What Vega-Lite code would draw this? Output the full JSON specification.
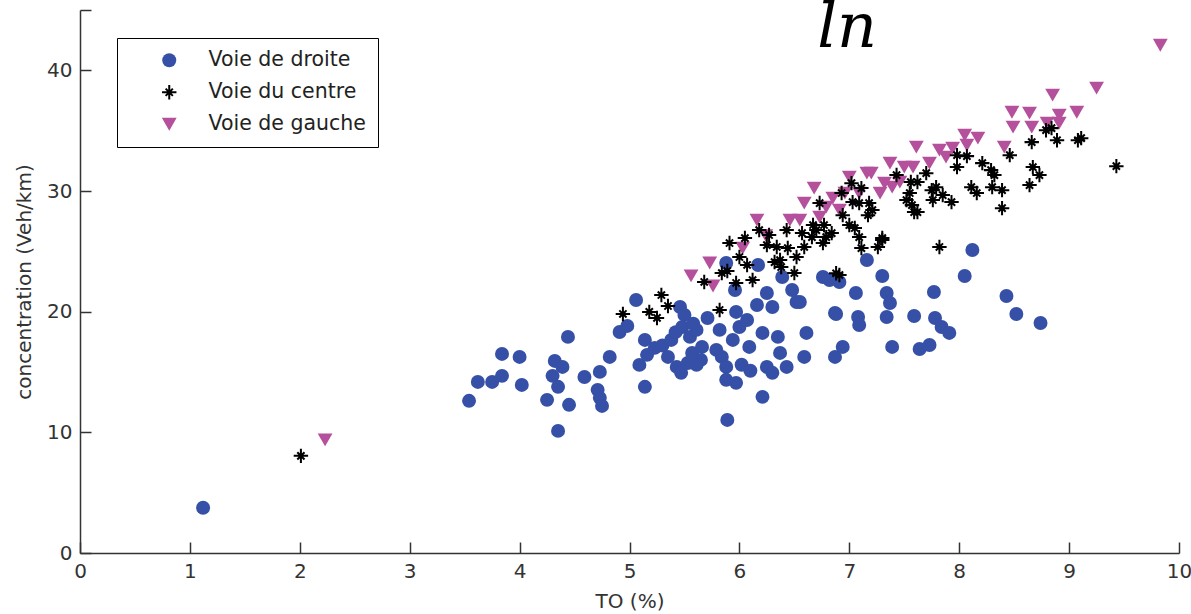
{
  "$schema": "https://vega.github.io/schema/vega-lite/v6.json",
  "width": 1099,
  "height": 543,
  "autosize": {"type": "none"},
  "padding": {"left": 80, "top": 10, "right": 12, "bottom": 61},
  "background": "#ffffff",
  "config": {
    "view": {"stroke": null},
    "font": "DejaVu Sans",
    "axis": {
      "grid": false,
      "domainColor": "#333333",
      "domainWidth": 1.5,
      "tickColor": "#333333",
      "tickWidth": 1.5,
      "tickSize": -11,
      "labelFont": "DejaVu Sans",
      "labelFontSize": 20,
      "labelColor": "#333333",
      "labelPadding": 19,
      "labelFlush": false,
      "labelOverlap": false,
      "titleFont": "DejaVu Sans",
      "titleFontSize": 20,
      "titleFontWeight": "normal",
      "titleColor": "#333333"
    },
    "legend": {
      "orient": "none",
      "legendX": 37,
      "legendY": 28,
      "strokeColor": "#000000",
      "fillColor": "#ffffff",
      "padding": 12,
      "labelFont": "DejaVu Sans",
      "labelFontSize": 20.5,
      "labelColor": "#222222",
      "rowPadding": 11,
      "symbolOffset": 30,
      "labelOffset": 29,
      "symbolStrokeWidth": 0
    }
  },
  "layer": [
    {
      "data": {
        "values": [
          {"voie": "Voie de droite", "TO": 1.12, "conc": 3.75},
          {"voie": "Voie de droite", "TO": 3.54, "conc": 12.61},
          {"voie": "Voie de droite", "TO": 3.62, "conc": 14.18},
          {"voie": "Voie de droite", "TO": 3.75, "conc": 14.18},
          {"voie": "Voie de droite", "TO": 3.84, "conc": 14.68},
          {"voie": "Voie de droite", "TO": 3.84, "conc": 16.5},
          {"voie": "Voie de droite", "TO": 4.0, "conc": 16.25},
          {"voie": "Voie de droite", "TO": 4.02, "conc": 13.93},
          {"voie": "Voie de droite", "TO": 4.25, "conc": 12.69},
          {"voie": "Voie de droite", "TO": 4.3, "conc": 14.68},
          {"voie": "Voie de droite", "TO": 4.32, "conc": 15.92},
          {"voie": "Voie de droite", "TO": 4.39, "conc": 15.42},
          {"voie": "Voie de droite", "TO": 4.35, "conc": 13.77},
          {"voie": "Voie de droite", "TO": 4.45, "conc": 12.28},
          {"voie": "Voie de droite", "TO": 4.35, "conc": 10.12},
          {"voie": "Voie de droite", "TO": 4.44, "conc": 17.91},
          {"voie": "Voie de droite", "TO": 4.59, "conc": 14.59},
          {"voie": "Voie de droite", "TO": 4.73, "conc": 15.01},
          {"voie": "Voie de droite", "TO": 4.71, "conc": 13.52},
          {"voie": "Voie de droite", "TO": 4.73, "conc": 12.86},
          {"voie": "Voie de droite", "TO": 4.75, "conc": 12.19},
          {"voie": "Voie de droite", "TO": 4.82, "conc": 16.25},
          {"voie": "Voie de droite", "TO": 4.91, "conc": 18.32},
          {"voie": "Voie de droite", "TO": 4.98, "conc": 18.82},
          {"voie": "Voie de droite", "TO": 5.06, "conc": 20.97},
          {"voie": "Voie de droite", "TO": 5.09, "conc": 15.59},
          {"voie": "Voie de droite", "TO": 5.14, "conc": 17.66},
          {"voie": "Voie de droite", "TO": 5.16, "conc": 16.42},
          {"voie": "Voie de droite", "TO": 5.14, "conc": 13.77},
          {"voie": "Voie de droite", "TO": 5.23, "conc": 17.0},
          {"voie": "Voie de droite", "TO": 5.3, "conc": 17.2},
          {"voie": "Voie de droite", "TO": 5.35, "conc": 16.25},
          {"voie": "Voie de droite", "TO": 5.38, "conc": 17.66},
          {"voie": "Voie de droite", "TO": 5.42, "conc": 18.3},
          {"voie": "Voie de droite", "TO": 5.43, "conc": 15.42},
          {"voie": "Voie de droite", "TO": 5.47, "conc": 14.93},
          {"voie": "Voie de droite", "TO": 5.46, "conc": 20.39},
          {"voie": "Voie de droite", "TO": 5.5, "conc": 19.73},
          {"voie": "Voie de droite", "TO": 5.48, "conc": 18.73},
          {"voie": "Voie de droite", "TO": 5.55, "conc": 17.91},
          {"voie": "Voie de droite", "TO": 5.58, "conc": 19.0},
          {"voie": "Voie de droite", "TO": 5.61, "conc": 18.49},
          {"voie": "Voie de droite", "TO": 5.66, "conc": 17.08},
          {"voie": "Voie de droite", "TO": 5.57, "conc": 16.58},
          {"voie": "Voie de droite", "TO": 5.65, "conc": 16.0},
          {"voie": "Voie de droite", "TO": 5.53, "conc": 15.75},
          {"voie": "Voie de droite", "TO": 5.61, "conc": 15.59},
          {"voie": "Voie de droite", "TO": 5.71, "conc": 19.48},
          {"voie": "Voie de droite", "TO": 5.82, "conc": 18.49},
          {"voie": "Voie de droite", "TO": 5.79, "conc": 16.83},
          {"voie": "Voie de droite", "TO": 5.84, "conc": 16.25},
          {"voie": "Voie de droite", "TO": 5.88, "conc": 15.42},
          {"voie": "Voie de droite", "TO": 5.88, "conc": 14.35},
          {"voie": "Voie de droite", "TO": 5.97, "conc": 14.1},
          {"voie": "Voie de droite", "TO": 5.89, "conc": 11.03},
          {"voie": "Voie de droite", "TO": 5.94, "conc": 17.66},
          {"voie": "Voie de droite", "TO": 6.0, "conc": 18.73},
          {"voie": "Voie de droite", "TO": 5.97, "conc": 19.98},
          {"voie": "Voie de droite", "TO": 6.02, "conc": 15.6},
          {"voie": "Voie de droite", "TO": 6.1, "conc": 15.1},
          {"voie": "Voie de droite", "TO": 6.07, "conc": 19.31},
          {"voie": "Voie de droite", "TO": 6.09, "conc": 17.08},
          {"voie": "Voie de droite", "TO": 5.96, "conc": 21.8},
          {"voie": "Voie de droite", "TO": 6.16, "conc": 20.55},
          {"voie": "Voie de droite", "TO": 6.25, "conc": 21.55},
          {"voie": "Voie de droite", "TO": 6.3, "conc": 20.39},
          {"voie": "Voie de droite", "TO": 6.21, "conc": 18.24},
          {"voie": "Voie de droite", "TO": 6.35, "conc": 17.91},
          {"voie": "Voie de droite", "TO": 6.25, "conc": 15.42},
          {"voie": "Voie de droite", "TO": 6.3, "conc": 14.93},
          {"voie": "Voie de droite", "TO": 6.37, "conc": 16.58},
          {"voie": "Voie de droite", "TO": 6.43, "conc": 15.42},
          {"voie": "Voie de droite", "TO": 6.21, "conc": 12.94},
          {"voie": "Voie de droite", "TO": 6.39, "conc": 22.87},
          {"voie": "Voie de droite", "TO": 6.48, "conc": 21.8},
          {"voie": "Voie de droite", "TO": 6.52, "conc": 20.8},
          {"voie": "Voie de droite", "TO": 6.61, "conc": 18.24},
          {"voie": "Voie de droite", "TO": 6.59, "conc": 16.25},
          {"voie": "Voie de droite", "TO": 6.76, "conc": 22.87},
          {"voie": "Voie de droite", "TO": 6.82, "conc": 22.62},
          {"voie": "Voie de droite", "TO": 6.87, "conc": 19.89},
          {"voie": "Voie de droite", "TO": 6.87, "conc": 16.25},
          {"voie": "Voie de droite", "TO": 6.17, "conc": 23.87},
          {"voie": "Voie de droite", "TO": 5.88, "conc": 24.03},
          {"voie": "Voie de droite", "TO": 7.16, "conc": 24.28},
          {"voie": "Voie de droite", "TO": 8.12, "conc": 25.11},
          {"voie": "Voie de droite", "TO": 8.05, "conc": 22.96},
          {"voie": "Voie de droite", "TO": 6.91, "conc": 22.46},
          {"voie": "Voie de droite", "TO": 7.3, "conc": 22.96},
          {"voie": "Voie de droite", "TO": 7.06, "conc": 21.55},
          {"voie": "Voie de droite", "TO": 7.34, "conc": 21.55},
          {"voie": "Voie de droite", "TO": 7.37, "conc": 20.72},
          {"voie": "Voie de droite", "TO": 7.34, "conc": 19.56},
          {"voie": "Voie de droite", "TO": 6.55, "conc": 20.8},
          {"voie": "Voie de droite", "TO": 6.88, "conc": 19.81},
          {"voie": "Voie de droite", "TO": 7.08, "conc": 19.56},
          {"voie": "Voie de droite", "TO": 7.09, "conc": 18.9},
          {"voie": "Voie de droite", "TO": 7.59, "conc": 19.64},
          {"voie": "Voie de droite", "TO": 7.77, "conc": 21.63},
          {"voie": "Voie de droite", "TO": 7.78, "conc": 19.48},
          {"voie": "Voie de droite", "TO": 7.84, "conc": 18.73},
          {"voie": "Voie de droite", "TO": 7.91, "conc": 18.24},
          {"voie": "Voie de droite", "TO": 6.94, "conc": 17.08},
          {"voie": "Voie de droite", "TO": 7.39, "conc": 17.08},
          {"voie": "Voie de droite", "TO": 7.64, "conc": 16.91},
          {"voie": "Voie de droite", "TO": 7.73, "conc": 17.24},
          {"voie": "Voie de droite", "TO": 8.43, "conc": 21.3},
          {"voie": "Voie de droite", "TO": 8.52, "conc": 19.81},
          {"voie": "Voie de droite", "TO": 8.74, "conc": 19.06},
          {"voie": "Voie de gauche", "TO": 2.23, "conc": 9.38},
          {"voie": "Voie de gauche", "TO": 5.56, "conc": 22.96},
          {"voie": "Voie de gauche", "TO": 5.73, "conc": 24.03},
          {"voie": "Voie de gauche", "TO": 5.76, "conc": 22.13},
          {"voie": "Voie de gauche", "TO": 6.03, "conc": 25.27},
          {"voie": "Voie de gauche", "TO": 6.16, "conc": 27.59},
          {"voie": "Voie de gauche", "TO": 6.24, "conc": 26.3},
          {"voie": "Voie de gauche", "TO": 6.46, "conc": 27.59},
          {"voie": "Voie de gauche", "TO": 6.59, "conc": 29.0},
          {"voie": "Voie de gauche", "TO": 6.68, "conc": 30.24},
          {"voie": "Voie de gauche", "TO": 6.85, "conc": 29.41},
          {"voie": "Voie de gauche", "TO": 6.91, "conc": 28.42},
          {"voie": "Voie de gauche", "TO": 7.0, "conc": 31.15},
          {"voie": "Voie de gauche", "TO": 7.16, "conc": 31.48},
          {"voie": "Voie de gauche", "TO": 7.2, "conc": 31.48},
          {"voie": "Voie de gauche", "TO": 7.09, "conc": 29.83},
          {"voie": "Voie de gauche", "TO": 7.37, "conc": 32.31},
          {"voie": "Voie de gauche", "TO": 7.46, "conc": 30.74},
          {"voie": "Voie de gauche", "TO": 7.58, "conc": 31.98},
          {"voie": "Voie de gauche", "TO": 7.61, "conc": 33.63},
          {"voie": "Voie de gauche", "TO": 6.55, "conc": 27.59},
          {"voie": "Voie de gauche", "TO": 6.79, "conc": 28.67},
          {"voie": "Voie de gauche", "TO": 6.73, "conc": 27.84},
          {"voie": "Voie de gauche", "TO": 6.96, "conc": 29.83},
          {"voie": "Voie de gauche", "TO": 7.5, "conc": 31.98},
          {"voie": "Voie de gauche", "TO": 7.73, "conc": 32.31},
          {"voie": "Voie de gauche", "TO": 7.82, "conc": 33.39},
          {"voie": "Voie de gauche", "TO": 7.88, "conc": 32.81},
          {"voie": "Voie de gauche", "TO": 7.94, "conc": 33.55},
          {"voie": "Voie de gauche", "TO": 8.05, "conc": 34.63},
          {"voie": "Voie de gauche", "TO": 8.17, "conc": 34.38},
          {"voie": "Voie de gauche", "TO": 8.07, "conc": 33.8},
          {"voie": "Voie de gauche", "TO": 8.41, "conc": 33.63},
          {"voie": "Voie de gauche", "TO": 8.48, "conc": 36.53},
          {"voie": "Voie de gauche", "TO": 8.49, "conc": 35.29},
          {"voie": "Voie de gauche", "TO": 8.64, "conc": 36.45},
          {"voie": "Voie de gauche", "TO": 8.66, "conc": 35.29},
          {"voie": "Voie de gauche", "TO": 8.8, "conc": 35.62},
          {"voie": "Voie de gauche", "TO": 8.85, "conc": 37.94},
          {"voie": "Voie de gauche", "TO": 8.91, "conc": 36.28},
          {"voie": "Voie de gauche", "TO": 8.91, "conc": 35.62},
          {"voie": "Voie de gauche", "TO": 9.07, "conc": 36.53},
          {"voie": "Voie de gauche", "TO": 9.25, "conc": 38.52},
          {"voie": "Voie de gauche", "TO": 7.32, "conc": 30.65},
          {"voie": "Voie de gauche", "TO": 7.39, "conc": 30.32},
          {"voie": "Voie de gauche", "TO": 7.28, "conc": 29.83},
          {"voie": "Voie de gauche", "TO": 9.83, "conc": 42.08},
          {"voie": "Voie du centre", "TO": 2.01, "conc": 8.05},
          {"voie": "Voie du centre", "TO": 4.94, "conc": 19.81},
          {"voie": "Voie du centre", "TO": 5.18, "conc": 19.98},
          {"voie": "Voie du centre", "TO": 5.25, "conc": 19.48},
          {"voie": "Voie du centre", "TO": 5.29, "conc": 21.38},
          {"voie": "Voie du centre", "TO": 5.35, "conc": 20.47},
          {"voie": "Voie du centre", "TO": 5.68, "conc": 22.46},
          {"voie": "Voie du centre", "TO": 5.82, "conc": 20.14},
          {"voie": "Voie du centre", "TO": 5.84, "conc": 23.2},
          {"voie": "Voie du centre", "TO": 5.89, "conc": 23.37},
          {"voie": "Voie du centre", "TO": 5.97, "conc": 22.38},
          {"voie": "Voie du centre", "TO": 5.91, "conc": 25.69},
          {"voie": "Voie du centre", "TO": 6.05, "conc": 26.1},
          {"voie": "Voie du centre", "TO": 6.0, "conc": 24.53},
          {"voie": "Voie du centre", "TO": 6.07, "conc": 23.87},
          {"voie": "Voie du centre", "TO": 6.12, "conc": 22.62},
          {"voie": "Voie du centre", "TO": 6.18, "conc": 26.76},
          {"voie": "Voie du centre", "TO": 6.27, "conc": 26.35},
          {"voie": "Voie du centre", "TO": 6.25, "conc": 25.52},
          {"voie": "Voie du centre", "TO": 6.32, "conc": 24.11},
          {"voie": "Voie du centre", "TO": 6.38, "conc": 23.7},
          {"voie": "Voie du centre", "TO": 6.43, "conc": 26.76},
          {"voie": "Voie du centre", "TO": 6.44, "conc": 25.27},
          {"voie": "Voie du centre", "TO": 6.5, "conc": 23.2},
          {"voie": "Voie du centre", "TO": 6.52, "conc": 24.53},
          {"voie": "Voie du centre", "TO": 6.57, "conc": 26.51},
          {"voie": "Voie du centre", "TO": 6.59, "conc": 25.36},
          {"voie": "Voie du centre", "TO": 6.67, "conc": 27.18},
          {"voie": "Voie du centre", "TO": 6.7, "conc": 26.76},
          {"voie": "Voie du centre", "TO": 6.77, "conc": 27.18},
          {"voie": "Voie du centre", "TO": 6.79, "conc": 26.18},
          {"voie": "Voie du centre", "TO": 6.84, "conc": 26.51},
          {"voie": "Voie du centre", "TO": 6.76, "conc": 25.69},
          {"voie": "Voie du centre", "TO": 6.73, "conc": 29.0},
          {"voie": "Voie du centre", "TO": 6.91, "conc": 23.04},
          {"voie": "Voie du centre", "TO": 6.94, "conc": 28.0},
          {"voie": "Voie du centre", "TO": 7.02, "conc": 30.65},
          {"voie": "Voie du centre", "TO": 7.11, "conc": 30.24},
          {"voie": "Voie du centre", "TO": 7.03, "conc": 29.08},
          {"voie": "Voie du centre", "TO": 7.09, "conc": 29.0},
          {"voie": "Voie du centre", "TO": 7.0, "conc": 27.18},
          {"voie": "Voie du centre", "TO": 7.05, "conc": 26.93},
          {"voie": "Voie du centre", "TO": 7.18, "conc": 29.0},
          {"voie": "Voie du centre", "TO": 7.21, "conc": 28.42},
          {"voie": "Voie du centre", "TO": 7.17, "conc": 28.0},
          {"voie": "Voie du centre", "TO": 7.09, "conc": 26.18},
          {"voie": "Voie du centre", "TO": 7.11, "conc": 25.27},
          {"voie": "Voie du centre", "TO": 7.26, "conc": 25.36},
          {"voie": "Voie du centre", "TO": 7.3, "conc": 25.94},
          {"voie": "Voie du centre", "TO": 7.43, "conc": 31.32},
          {"voie": "Voie du centre", "TO": 7.52, "conc": 29.25},
          {"voie": "Voie du centre", "TO": 7.57, "conc": 28.83},
          {"voie": "Voie du centre", "TO": 7.59, "conc": 28.25},
          {"voie": "Voie du centre", "TO": 6.93, "conc": 29.83},
          {"voie": "Voie du centre", "TO": 6.66, "conc": 26.18},
          {"voie": "Voie du centre", "TO": 6.34, "conc": 25.36},
          {"voie": "Voie du centre", "TO": 7.56, "conc": 30.74},
          {"voie": "Voie du centre", "TO": 7.62, "conc": 30.74},
          {"voie": "Voie du centre", "TO": 7.7, "conc": 31.48},
          {"voie": "Voie du centre", "TO": 7.55, "conc": 29.83},
          {"voie": "Voie du centre", "TO": 7.62, "conc": 28.25},
          {"voie": "Voie du centre", "TO": 7.75, "conc": 30.07},
          {"voie": "Voie du centre", "TO": 7.79, "conc": 30.32},
          {"voie": "Voie du centre", "TO": 7.76, "conc": 29.25},
          {"voie": "Voie du centre", "TO": 7.85, "conc": 29.66},
          {"voie": "Voie du centre", "TO": 7.93, "conc": 29.08},
          {"voie": "Voie du centre", "TO": 7.98, "conc": 32.97},
          {"voie": "Voie du centre", "TO": 8.07, "conc": 32.89},
          {"voie": "Voie du centre", "TO": 7.98, "conc": 31.98},
          {"voie": "Voie du centre", "TO": 8.11, "conc": 30.32},
          {"voie": "Voie du centre", "TO": 8.16, "conc": 29.83},
          {"voie": "Voie du centre", "TO": 8.21, "conc": 32.31},
          {"voie": "Voie du centre", "TO": 8.29, "conc": 31.73},
          {"voie": "Voie du centre", "TO": 8.32, "conc": 31.32},
          {"voie": "Voie du centre", "TO": 8.3, "conc": 30.32},
          {"voie": "Voie du centre", "TO": 8.39, "conc": 30.07},
          {"voie": "Voie du centre", "TO": 8.39, "conc": 28.58},
          {"voie": "Voie du centre", "TO": 8.46, "conc": 32.97},
          {"voie": "Voie du centre", "TO": 8.66, "conc": 34.05},
          {"voie": "Voie du centre", "TO": 8.67, "conc": 31.98},
          {"voie": "Voie du centre", "TO": 8.73, "conc": 31.32},
          {"voie": "Voie du centre", "TO": 8.64, "conc": 30.49},
          {"voie": "Voie du centre", "TO": 8.79, "conc": 35.04},
          {"voie": "Voie du centre", "TO": 8.84, "conc": 35.21},
          {"voie": "Voie du centre", "TO": 8.89, "conc": 34.21},
          {"voie": "Voie du centre", "TO": 9.08, "conc": 34.21},
          {"voie": "Voie du centre", "TO": 9.11, "conc": 34.38},
          {"voie": "Voie du centre", "TO": 9.43, "conc": 32.06},
          {"voie": "Voie du centre", "TO": 7.3, "conc": 26.1},
          {"voie": "Voie du centre", "TO": 7.82, "conc": 25.36},
          {"voie": "Voie du centre", "TO": 6.37, "conc": 24.28},
          {"voie": "Voie du centre", "TO": 6.88, "conc": 23.18}
        ]
      },
      "mark": {"type": "point", "filled": true, "opacity": 1},
      "encoding": {
        "x": {
          "field": "TO",
          "type": "quantitative",
          "scale": {"domain": [0, 10], "nice": false, "zero": false},
          "axis": {"title": "TO (%)", "values": [0, 1, 2, 3, 4, 5, 6, 7, 8, 9, 10], "format": "d", "titlePadding": 10}
        },
        "y": {
          "field": "conc",
          "type": "quantitative",
          "scale": {"domain": [0, 45], "nice": false, "zero": false},
          "axis": {
            "title": "concentration (Veh/km)",
            "values": [0, 10, 20, 30, 40, 45],
            "format": "d",
            "labelExpr": "datum.value == 45 ? '' : datum.label",
            "titlePadding": 12
          }
        },
        "color": {
          "field": "voie",
          "type": "nominal",
          "scale": {
            "domain": ["Voie de droite", "Voie du centre", "Voie de gauche"],
            "range": ["#3550a6", "#000000", "#b4509c"]
          },
          "legend": {"title": null}
        },
        "shape": {
          "field": "voie",
          "type": "nominal",
          "scale": {
            "domain": ["Voie de droite", "Voie du centre", "Voie de gauche"],
            "range": [
              "circle",
              "M-1,-0.14L1,-0.14L1,0.14L-1,0.14Z M-0.14,-1L0.14,-1L0.14,1L-0.14,1Z M0.40,0.60L-0.60,-0.40L-0.40,-0.60L0.60,0.40Z M0.60,-0.40L-0.40,0.60L-0.60,0.40L0.40,-0.60Z M-0.3,-0.3L0.3,-0.3L0.3,0.3L-0.3,0.3Z",
              "triangle-down"
            ]
          },
          "legend": {"title": null}
        },
        "size": {
          "field": "voie",
          "type": "nominal",
          "scale": {
            "domain": ["Voie de droite", "Voie du centre", "Voie de gauche"],
            "range": [195, 220, 320]
          },
          "legend": {"title": null}
        }
      }
    },
    {
      "data": {"values": [{"TO": 6.98, "conc": 41.9, "t": "ln"}]},
      "mark": {
        "type": "text",
        "font": "DejaVu Serif",
        "fontStyle": "italic",
        "fontSize": 62,
        "align": "center",
        "baseline": "alphabetic",
        "color": "#000000"
      },
      "encoding": {
        "x": {"field": "TO", "type": "quantitative"},
        "y": {"field": "conc", "type": "quantitative"},
        "text": {"field": "t"}
      }
    }
  ]
}
